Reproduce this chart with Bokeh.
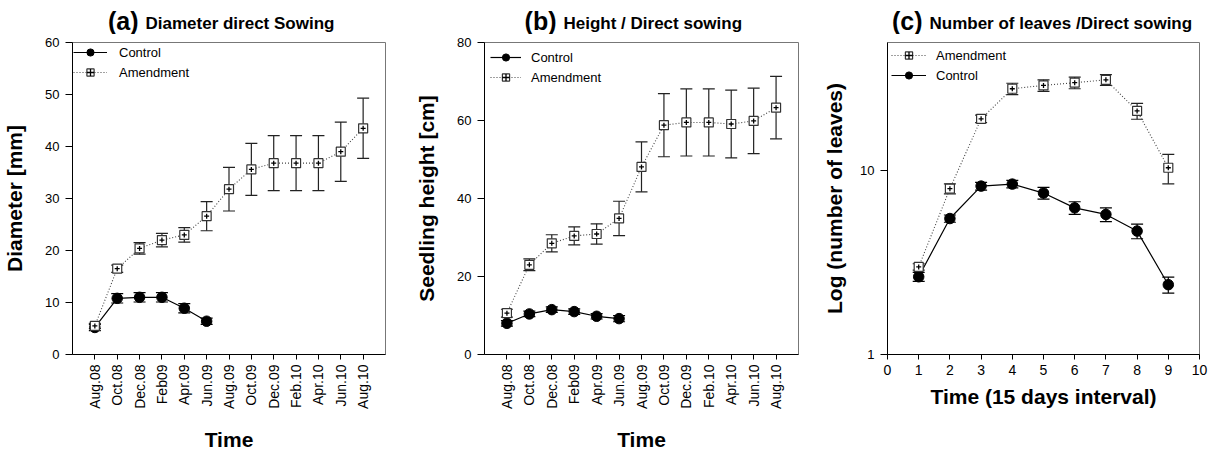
import math
from bokeh.plotting import figure
from bokeh.models import (ColumnDataSource, FixedTicker, Whisker, TeeHead, Legend,
                          LegendItem, Range1d)
from bokeh.core.properties import value
from bokeh.layouts import row, column
from bokeh.embed import file_html
from bokeh.resources import INLINE

FONT = "Liberation Sans"

# ---------------- data ----------------
dates = ["Aug.08", "Oct.08", "Dec.08", "Feb09", "Apr.09", "Jun.09", "Aug.09",
         "Oct.09", "Dec.09", "Feb.10", "Apr.10", "Jun.10", "Aug.10"]

diam_control = [5.2, 10.8, 11.0, 11.0, 8.9, 6.4]
diam_control_err = [0.6, 0.9, 0.9, 0.9, 0.9, 0.6]
diam_amend = [5.5, 16.5, 20.4, 22.0, 23.0, 26.6, 31.8, 35.6, 36.8, 36.8, 36.8, 39.0, 43.5]
diam_amend_err = [0.5, 0.7, 1.1, 1.3, 1.4, 2.8, 4.2, 5.0, 5.3, 5.3, 5.3, 5.7, 5.8]

height_control = [8.0, 10.4, 11.5, 11.0, 9.8, 9.2]
height_control_err = [0.7, 0.7, 0.7, 0.7, 0.7, 0.8]
height_amend = [10.6, 23.0, 28.5, 30.4, 30.9, 34.9, 48.1, 58.8, 59.5, 59.5, 59.1, 59.9, 63.3]
height_amend_err = [1.0, 1.5, 2.2, 2.3, 2.6, 4.4, 6.4, 8.1, 8.6, 8.6, 8.7, 8.4, 8.0]

interval = [1, 2, 3, 4, 5, 6, 7, 8, 9]
leaves_control = [2.65, 5.5, 8.26, 8.47, 7.57, 6.29, 5.79, 4.7, 2.4]
leaves_control_err = [0.15, 0.25, 0.4, 0.4, 0.55, 0.5, 0.5, 0.43, 0.24]
leaves_amend = [3.0, 8.0, 19.2, 28.0, 29.2, 30.2, 31.3, 21.2, 10.4]
leaves_amend_err = [0.12, 0.5, 0.9, 2.0, 2.1, 2.2, 2.1, 2.1, 1.9]

panel_letters = ["(a)", "(b)", "(c)"]
panel_titles = ["Diameter direct Sowing", "Height / Direct sowing",
                "Number of leaves /Direct sowing"]

HEADER_H = 34


def src(x, y, e):
    return ColumnDataSource(dict(x=x, y=y,
                                 lo=[a - b for a, b in zip(y, e)],
                                 hi=[a + b for a, b in zip(y, e)]))


def make_header(fw, bl, br, letter, text, xsplit):
    # header strip above a panel; x in pixels from the figure's left edge
    h = figure(frame_width=fw, frame_height=HEADER_H,
               x_range=Range1d(bl, bl + fw), y_range=Range1d(0, HEADER_H),
               min_border_left=bl, min_border_right=br, min_border_top=0,
               min_border_bottom=0, x_axis_location=None, y_axis_location=None,
               output_backend="svg", toolbar_location=None, outline_line_color=None,
               background_fill_color="white", border_fill_color="white")
    h.grid.visible = False
    h.text(x=[xsplit], y=[0], text=[letter], text_align="right",
           text_baseline="bottom", text_font=value(FONT), text_font_size="25px",
           text_font_style="bold", text_color="black")
    h.text(x=[xsplit + 7], y=[2], text=[text], text_align="left",
           text_baseline="bottom", text_font=value(FONT), text_font_size="17px",
           text_font_style="bold", text_color="black")
    return h


def make_fig(fw, bl, br, y_range, y_type="linear"):
    p = figure(frame_width=fw, frame_height=312, min_border_left=bl, min_border_right=br,
               min_border_top=8, min_border_bottom=94, y_range=y_range,
               y_axis_type=y_type, output_backend="svg", toolbar_location=None,
               background_fill_color="white", border_fill_color="white")
    p.grid.visible = False
    p.outline_line_color = "#777777"
    p.outline_line_width = 1
    for ax in (p.xaxis[0], p.yaxis[0]):
        ax.axis_line_color = "black"
        ax.major_tick_line_color = "black"
        ax.minor_tick_line_color = None
        ax.major_tick_in = 0
        ax.major_label_text_font = FONT
        ax.major_label_text_font_size = "13px"
        ax.major_label_text_color = "black"
        ax.axis_label_text_font = FONT
        ax.axis_label_text_font_size = "21px"
        ax.axis_label_text_font_style = "bold"
        ax.axis_label_text_color = "black"
    p.xaxis.major_label_text_font_size = "14px"
    p.yaxis.major_tick_out = 7
    p.yaxis.major_label_standoff = 6
    p.xaxis.major_tick_out = 5
    return p


def add_series(p, s_ctrl, s_amd):
    p.add_layout(Whisker(source=s_ctrl, base="x", lower="lo", upper="hi",
                         line_color="black", line_width=1.2,
                         upper_head=TeeHead(size=12, line_color="black", line_width=1.2),
                         lower_head=TeeHead(size=12, line_color="black", line_width=1.2)))
    p.add_layout(Whisker(source=s_amd, base="x", lower="lo", upper="hi",
                         line_color="#222222", line_width=1.2,
                         upper_head=TeeHead(size=12, line_color="#222222", line_width=1.2),
                         lower_head=TeeHead(size=12, line_color="#222222", line_width=1.2)))
    cl = p.line("x", "y", source=s_ctrl, line_color="black", line_width=1.2)
    cm = p.scatter("x", "y", source=s_ctrl, marker="circle", size=10.5,
                   fill_color="black", line_color="black")
    al = p.line("x", "y", source=s_amd, line_color="#444444", line_width=1.1,
                line_dash="1 2")
    am = p.scatter("x", "y", source=s_amd, marker="square", size=9,
                   fill_color="white", line_color="#333333", line_width=1.2)
    ac = p.scatter("x", "y", source=s_amd, marker="cross", size=5,
                   line_color="black", line_width=1.3)
    return [cl, cm], [al, am, ac]


def add_legend(p, items, margin, glyph_width, standoff):
    lg = Legend(items=items, location="top_left", margin=margin, padding=2,
                spacing=2, glyph_height=18, label_height=18, glyph_width=glyph_width,
                label_standoff=standoff, border_line_color=None,
                background_fill_alpha=0.0, label_text_font=FONT,
                label_text_font_size="13px", label_text_color="black")
    p.add_layout(lg)


idx_ctrl = list(range(len(diam_control)))
idx_amd = list(range(len(dates)))
date_labels = {i: d for i, d in enumerate(dates)}

# ---------------- panel (a) ----------------
pa = make_fig(313, 70, 25, Range1d(0, 60))
pa.x_range = Range1d(-1, 13)
pa.yaxis.ticker = FixedTicker(ticks=[0, 10, 20, 30, 40, 50, 60])
pa.xaxis.ticker = FixedTicker(ticks=idx_amd)
pa.xaxis.major_label_overrides = date_labels
pa.xaxis.major_label_orientation = math.pi / 2
pa.xaxis.axis_label = "Time"
pa.xaxis.axis_label_standoff = 16
pa.yaxis.axis_label = "Diameter [mm]"
pa.yaxis.axis_label_standoff = 16
c, a = add_series(pa, src(idx_ctrl, diam_control, diam_control_err),
                  src(idx_amd, diam_amend, diam_amend_err))
add_legend(pa, [LegendItem(label="Control", renderers=c),
                LegendItem(label="Amendment", renderers=a)], 1, 34, 12)
ha = make_header(313, 70, 25, panel_letters[0], panel_titles[0], 136)

# ---------------- panel (b) ----------------
pb = make_fig(314, 74, 22, Range1d(0, 80))
pb.x_range = Range1d(-1, 13)
pb.yaxis.ticker = FixedTicker(ticks=[0, 20, 40, 60, 80])
pb.xaxis.ticker = FixedTicker(ticks=idx_amd)
pb.xaxis.major_label_overrides = date_labels
pb.xaxis.major_label_orientation = math.pi / 2
pb.xaxis.axis_label = "Time"
pb.xaxis.axis_label_standoff = 16
pb.yaxis.axis_label = "Seedling height [cm]"
pb.yaxis.axis_label_standoff = 16
c, a = add_series(pb, src(idx_ctrl, height_control, height_control_err),
                  src(idx_amd, height_amend, height_amend_err))
add_legend(pb, [LegendItem(label="Control", renderers=c),
                LegendItem(label="Amendment", renderers=a)], 6, 31, 10)
hb = make_header(314, 74, 22, panel_letters[1], panel_titles[1], 146)

# ---------------- panel (c) ----------------
pc = make_fig(312, 67, 11, Range1d(1, 50), y_type="log")
pc.x_range = Range1d(0, 10)
pc.yaxis.ticker = FixedTicker(ticks=[1, 10])
pc.yaxis.major_label_overrides = {1: "1", 10: "10"}
pc.xaxis.ticker = FixedTicker(ticks=list(range(11)))
pc.xaxis.axis_label = "Time (15 days interval)"
pc.xaxis.axis_label_standoff = 7
pc.yaxis.axis_label = "Log (number of leaves)"
pc.yaxis.axis_label_standoff = 11
c, a = add_series(pc, src(interval, leaves_control, leaves_control_err),
                  src(interval, leaves_amend, leaves_amend_err))
add_legend(pc, [LegendItem(label="Amendment", renderers=a),
                LegendItem(label="Control", renderers=c)], 4, 35, 10)
hc = make_header(312, 67, 11, panel_letters[2], panel_titles[2], 102)

layout = row(column(ha, pa, spacing=0), column(hb, pb, spacing=0),
             column(hc, pc, spacing=0), spacing=0)
open("out.html", "w").write(file_html(layout, INLINE))
